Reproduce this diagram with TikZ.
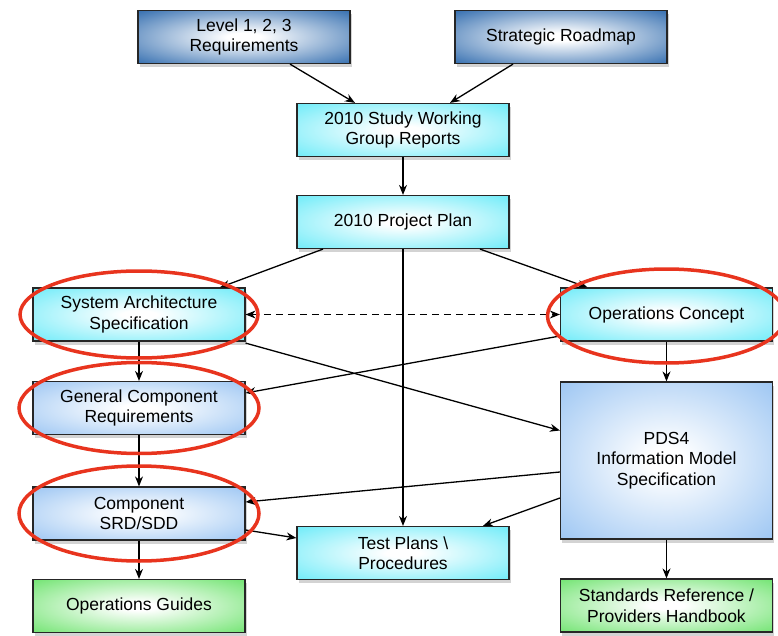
\documentclass[tikz,border=0pt]{standalone}
\usepackage{fontspec}
\setmainfont{Liberation Sans}
\usetikzlibrary{arrows.meta,shadows}

\definecolor{topblue}{RGB}{38,100,170}
\definecolor{plancyan}{RGB}{100,234,248}
\definecolor{specblue}{RGB}{150,194,242}
\definecolor{guidegreen}{RGB}{104,226,104}
\definecolor{ringred}{RGB}{232,52,30}
\colorlet{glowin}{white}
\colorlet{glowout}{plancyan}
\pgfdeclareradialshading[glowin,glowout]{boxglow}{\pgfpoint{0bp}{0bp}}{color(0bp)=(glowin); color(4bp)=(glowin); color(38bp)=(glowout); color(72bp)=(glowout)}

\tikzset{
    docbox/.style={draw=black!85, line width=1.2pt, minimum width=212pt, minimum height=53pt,
        align=center, font=\fontsize{17.5}{20.5}\selectfont, shading=boxglow,
        drop shadow={opacity=0.35, shadow xshift=1.5pt, shadow yshift=-3.5pt}},
    glow/.code={\colorlet{glowout}{#1}},
    link/.style={-{Stealth[length=10pt,width=8pt]}, line width=1.3pt},
    ring/.style={draw=ringred, line width=3.5pt}
}

\begin{document}
\begin{tikzpicture}[x=1pt,y=-1pt]
    \useasboundingbox (0,0) rectangle (778,636);
    % inputs
    \node[docbox,glow=topblue] (lvl) at (244,37) {Level 1, 2, 3\\Requirements};
    \node[docbox,glow=topblue] (road) at (561,37) {Strategic Roadmap};
    % planning
    \node[docbox,glow=plancyan] (study) at (403,130) {2010 Study Working\\Group Reports};
    \node[docbox,glow=plancyan] (plan) at (403,222) {2010 Project Plan};
    % left column
    \node[docbox,glow=plancyan] (sysarch) at (139,314.5) {System Architecture\\Specification};
    \node[docbox,glow=specblue] (gencomp) at (139,408) {General Component\\Requirements};
    \node[docbox,glow=specblue] (srd) at (139,513.5) {Component\\SRD/SDD};
    \node[docbox,glow=guidegreen] (guides) at (139,606) {Operations Guides};
    % middle and right column
    \node[docbox,glow=plancyan] (test) at (403,553) {Test Plans \textbackslash\\Procedures};
    \node[docbox,glow=plancyan] (opscon) at (666.5,314.5) {Operations Concept};
    \node[docbox,glow=specblue,minimum height=157pt] (pds4) at (666.5,460.5) {PDS4\\Information Model\\Specification};
    \node[docbox,glow=guidegreen] (stdref) at (666.5,605.5) {Standards Reference /\\Providers Handbook};

    % connectors
    \draw[link] ([xshift=46pt]lvl.south) -- ([xshift=-48pt]study.north);
    \draw[link] ([xshift=-48pt]road.south) -- ([xshift=47pt]study.north);
    \draw[link] (study) -- (plan);
    \draw[link] ([xshift=-80pt]plan.south) -- ([xshift=81pt]sysarch.north);
    \draw[link] ([xshift=77pt]plan.south) -- ([xshift=-79pt]opscon.north);
    \draw[link] (plan) -- (test);
    \draw[link,{Stealth[length=10pt,width=8pt]}-{Stealth[length=10pt,width=8pt]},dash pattern=on 7pt off 5pt] (sysarch) -- (opscon);
    \draw[link] (sysarch) -- (gencomp);
    \draw[link] ([yshift=-1.5pt]sysarch.south east) -- ([yshift=30pt]pds4.west);
    \draw[link] ([yshift=-21.5pt]opscon.west) -- ([yshift=15pt]gencomp.east);
    \draw[link] (opscon) -- (pds4);
    \draw[link] (gencomp) -- (srd);
    \draw[link] ([yshift=-11.5pt]pds4.west) -- ([yshift=11.5pt]srd.east);
    \draw[link] ([yshift=-37.5pt]pds4.west) -- ([xshift=80pt]test.north);
    \draw[link] ([yshift=-16.5pt]srd.east) -- ([yshift=15pt]test.west);
    \draw[link] (srd) -- (guides);
    \draw[link] (pds4) -- (stdref);

    % highlight rings
    \draw[ring] (sysarch.center) ellipse (119 and 43.5);
    \draw[ring] (gencomp.center) ellipse (120 and 45.5);
    \draw[ring] (srd.center) ellipse (120 and 47.5);
    \draw[ring] ([yshift=-1.5pt]opscon.center) ellipse (119 and 47);
\end{tikzpicture}
\end{document}
